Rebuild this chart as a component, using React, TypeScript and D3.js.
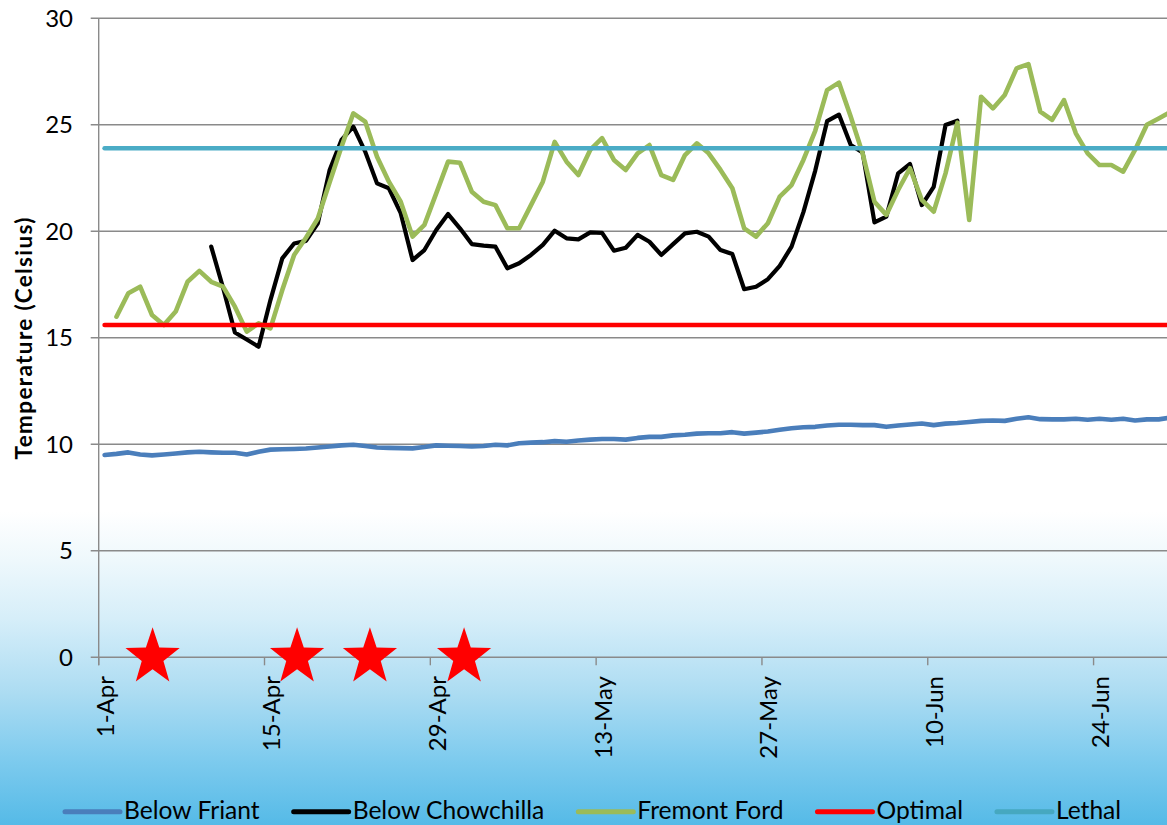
import React, { useEffect, useRef } from "react";
import * as d3 from "d3";

const W = 1167;
const H = 825;

// x positions: day index from 1-Apr (0); each daily point is centred in its day slot
const tickDays = [0, 14, 28, 42, 56, 70, 84];
const tickLabels = ["1-Apr", "15-Apr", "29-Apr", "13-May", "27-May", "10-Jun", "24-Jun"];
const yTicks = [0, 5, 10, 15, 20, 25, 30];

const belowFriant: (number | null)[] = [
  9.5, 9.55, 9.62, 9.52, 9.48, 9.52, 9.57, 9.62, 9.65, 9.62,
  9.6, 9.6, 9.52, 9.65, 9.75, 9.77, 9.78, 9.8, 9.85, 9.9,
  9.95, 9.98, 9.92, 9.85, 9.83, 9.82, 9.81, 9.87, 9.95, 9.93,
  9.92, 9.9, 9.92, 9.98, 9.95, 10.05, 10.08, 10.1, 10.15, 10.12,
  10.18, 10.22, 10.25, 10.25, 10.22, 10.3, 10.35, 10.35, 10.42, 10.45,
  10.5, 10.52, 10.52, 10.57, 10.5, 10.55, 10.6, 10.68, 10.75, 10.8,
  10.82, 10.88, 10.92, 10.92, 10.9, 10.9, 10.82, 10.88, 10.93, 10.98,
  10.9, 10.97, 11.0, 11.05, 11.1, 11.12, 11.1, 11.2, 11.27, 11.18,
  11.17, 11.17, 11.2, 11.15, 11.2, 11.15, 11.2, 11.12, 11.17, 11.17,
  11.25,
];

const belowChowchilla: (number | null)[] = [
  null, null, null, null, null, null, null, null, null, 19.28,
  17.35, 15.25, 14.92, 14.58, 16.77, 18.73, 19.43, 19.55, 20.37, 22.88,
  24.29, 24.91, 23.74, 22.25, 22.02, 20.85, 18.65, 19.12, 20.06, 20.81,
  20.14, 19.4, 19.33, 19.28, 18.26, 18.5, 18.89, 19.36, 20.03, 19.67,
  19.62, 19.95, 19.93, 19.09, 19.23, 19.83, 19.51, 18.89, 19.4, 19.9,
  19.98, 19.75, 19.12, 18.93, 17.28, 17.4, 17.75, 18.38, 19.28, 20.9,
  22.85, 25.17, 25.48, 24.05, 23.7, 20.42, 20.69, 22.72, 23.16, 21.23,
  22.09, 24.99, 25.19, null, null, null, null, null, null, null,
  null, null, null, null, null, null, null, null, null, null,
  null,
];

const fremontFord: (number | null)[] = [
  null, 15.99, 17.09, 17.4, 16.07, 15.6, 16.23, 17.63, 18.14, 17.63,
  17.4, 16.46, 15.29, 15.68, 15.44, 17.24, 18.89, 19.7, 20.6, 22.3,
  23.97, 25.54, 25.15, 23.5, 22.33, 21.39, 19.75, 20.3, 21.78, 23.27,
  23.22, 21.86, 21.39, 21.23, 20.14, 20.14, 21.23, 22.33, 24.2, 23.27,
  22.64, 23.82, 24.37, 23.35, 22.88, 23.66, 24.05, 22.64, 22.41, 23.58,
  24.13, 23.66, 22.88, 22.02, 20.14, 19.75, 20.38, 21.63, 22.17, 23.35,
  24.72, 26.63, 26.98, 25.38, 23.66, 21.39, 20.77, 21.94, 22.96, 21.47,
  20.92, 22.72, 25.1, 20.53, 26.32, 25.77, 26.4, 27.65, 27.85, 25.62,
  25.23, 26.16, 24.6, 23.66, 23.11, 23.11, 22.8, 23.82, 25.0, 25.3,
  25.6,
];

const optimalTemp = 15.6;
const lethalTemp = 23.9;

// red star annotations (day position along the axis, value 0)
const starDays = [4.55, 16.75, 22.9, 30.85];

const seriesNames = ["Below Friant", "Below Chowchilla", "Fremont Ford", "Optimal", "Lethal"];
const seriesColors = ["#4a7ebb", "#000000", "#9bbb59", "#ff0000", "#4bacc6"];
const legendColors = ["#4a7ebb", "#000000", "#9bbb59", "#ff0000", "#46a8c0"];

const FONT = "Lato, 'Open Sans', sans-serif";

export default function App() {
  const ref = useRef<SVGSVGElement>(null);

  useEffect(() => {
    const svg = d3.select(ref.current);
    svg.selectAll("*").remove();

    const x = d3.scaleLinear().domain([0, 90.2]).range([98.7, 1167]);
    const y = d3.scaleLinear().domain([0, 30]).range([657.3, 18.3]);

    // background
    const defs = svg.append("defs");
    const grad = defs
      .append("linearGradient")
      .attr("id", "bg")
      .attr("gradientUnits", "userSpaceOnUse")
      .attr("x1", 0)
      .attr("y1", 0)
      .attr("x2", 0)
      .attr("y2", H);
    [
      [0, "#ffffff"],
      [0.62, "#ffffff"],
      [0.68, "#eef8fc"],
      [0.75, "#d6eef9"],
      [0.84, "#acdcf2"],
      [0.92, "#7ecbee"],
      [1, "#55bae7"],
    ].forEach(([o, c]) => grad.append("stop").attr("offset", o as number).attr("stop-color", c as string));
    svg.append("rect").attr("width", W).attr("height", H).attr("fill", "url(#bg)");

    const gridColor = "#8a8a8a";
    // gridlines
    svg
      .append("g")
      .selectAll("line")
      .data(yTicks)
      .join("line")
      .attr("x1", x(0) - 8)
      .attr("x2", W)
      .attr("y1", (d) => y(d))
      .attr("y2", (d) => y(d))
      .attr("stroke", gridColor)
      .attr("stroke-width", 1.4);

    // y axis line
    svg
      .append("line")
      .attr("x1", x(0))
      .attr("x2", x(0))
      .attr("y1", y(30))
      .attr("y2", y(0) + 8)
      .attr("stroke", gridColor)
      .attr("stroke-width", 1.4);

    // x tick marks
    svg
      .append("g")
      .selectAll("line")
      .data(tickDays)
      .join("line")
      .attr("x1", (d) => x(d))
      .attr("x2", (d) => x(d))
      .attr("y1", y(0))
      .attr("y2", y(0) + 8)
      .attr("stroke", gridColor)
      .attr("stroke-width", 1.4);

    // y tick labels
    svg
      .append("g")
      .selectAll("text")
      .data(yTicks)
      .join("text")
      .attr("x", 73)
      .attr("y", (d) => y(d))
      .attr("dy", "0.36em")
      .attr("text-anchor", "end")
      .attr("font-family", FONT)
      .attr("font-size", 24)
      .attr("fill", "#000")
      .text((d) => String(d));

    // x tick labels (rotated)
    svg
      .append("g")
      .selectAll("text")
      .data(tickDays)
      .join("text")
      .attr("transform", (d) => `translate(${x(d) + 15.5},676) rotate(-90)`)
      .attr("text-anchor", "end")
      .attr("font-family", FONT)
      .attr("font-size", 24)
      .attr("fill", "#000")
      .text((d, i) => tickLabels[i]);

    // y axis title
    svg
      .append("text")
      .attr("transform", `translate(32,338.5) rotate(-90)`)
      .attr("text-anchor", "middle")
      .attr("font-family", FONT)
      .attr("font-weight", "bold")
      .attr("font-size", 22.5)
      .attr("textLength", 242)
      .attr("lengthAdjust", "spacing")
      .attr("fill", "#000")
      .text("Temperature (Celsius)");

    const line = d3
      .line<number | null>()
      .defined((d) => d != null)
      .x((d, i) => x(i + 0.5))
      .y((d) => y(d as number));

    const optimalSeries = belowFriant.map(() => optimalTemp);
    const lethalSeries = belowFriant.map(() => lethalTemp);
    const allSeries = [belowFriant, belowChowchilla, fremontFord, optimalSeries, lethalSeries];

    svg
      .append("g")
      .selectAll("path")
      .data(allSeries)
      .join("path")
      .attr("d", (d) => line(d) as string)
      .attr("fill", "none")
      .attr("stroke", (d, i) => seriesColors[i])
      .attr("stroke-width", (d, i) => (i === 1 ? 4.2 : 4.6))
      .attr("stroke-linejoin", "round")
      .attr("stroke-linecap", "round");

    // stars
    const starPath = (R: number) => {
      const r = R * 0.4;
      const pts: [number, number][] = d3.range(10).map((k) => {
        const a = -Math.PI / 2 + (k * Math.PI) / 5;
        const rad = k % 2 === 0 ? R : r;
        return [Math.cos(a) * rad * 0.95, Math.sin(a) * rad];
      });
      return d3.line()(pts) + "Z";
    };
    svg
      .append("g")
      .selectAll("path")
      .data(starDays)
      .join("path")
      .attr("d", starPath(30))
      .attr("transform", (d) => `translate(${x(d)},${y(0)})`)
      .attr("fill", "#ff0000");

    // legend
    const lg = svg.append("g");
    let cx = 65;
    const ly = 811.7;
    seriesNames.forEach((name, i) => {
      lg.append("line")
        .attr("x1", cx)
        .attr("x2", cx + 55)
        .attr("y1", ly)
        .attr("y2", ly)
        .attr("stroke", legendColors[i])
        .attr("stroke-width", 5)
        .attr("stroke-linecap", "round");
      const t = lg
        .append("text")
        .attr("x", cx + 59)
        .attr("y", 818.5)
        .attr("font-family", FONT)
        .attr("font-size", 24.6)
        .attr("fill", "#000")
        .text(name);
      const w = (t.node() as SVGTextElement).getComputedTextLength();
      cx = cx + 59 + w + 34;
    });
  }, []);

  return (
    <svg
      ref={ref}
      width={W}
      height={H}
      style={{ position: "absolute", left: 0, top: 0, display: "block" }}
    />
  );
}
